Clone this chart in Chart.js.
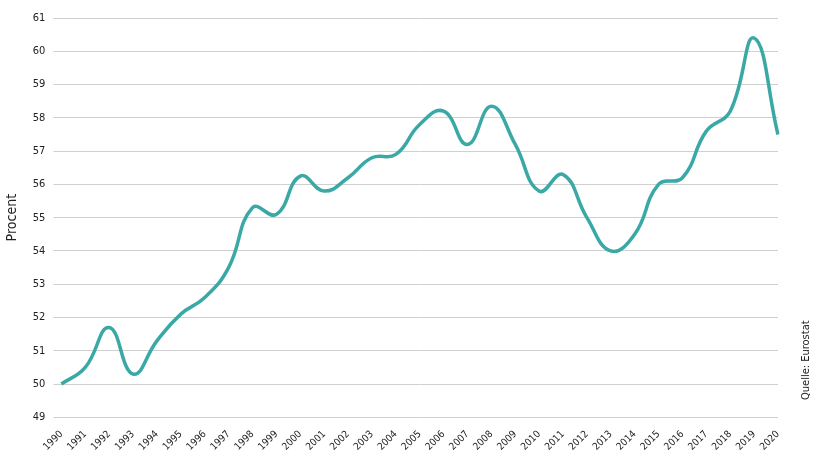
<!DOCTYPE html>
<html><head><meta charset="utf-8">
<script src="https://cdn.jsdelivr.net/npm/chart.js@4"></script>
<style>body{margin:0;background:#fff}#w{position:relative;width:820px;height:460px}
#src{position:absolute;transform:rotate(-90deg);transform-origin:left top;font:11px "DejaVu Sans Condensed",sans-serif;color:#222;white-space:nowrap;top:400px;left:799px}</style>
</head><body><div id="w"><canvas id="c" width="820" height="460"></canvas><div id="src">Quelle: Eurostat</div></div>
<script>
const years=['1990','1991','1992','1993','1994','1995','1996','1997','1998','1999','2000','2001','2002','2003','2004','2005','2006','2007','2008','2009','2010','2011','2012','2013','2014','2015','2016','2017','2018','2019','2020'];
const values=[50.0,50.5,51.7,50.3,51.3,52.1,52.6,53.5,55.3,55.1,56.25,55.8,56.2,56.8,56.9,57.8,58.2,57.2,58.35,57.2,55.8,56.3,55.0,54.0,54.5,56.0,56.2,57.6,58.2,60.4,57.5];
const yLabel='Procent';
const F='"DejaVu Sans Condensed", sans-serif';
new Chart(document.getElementById('c'),{type:'line',
data:{labels:years,datasets:[{data:values,borderColor:'#3aa9a6',borderWidth:3.5,pointRadius:0,tension:0.45}]},
options:{responsive:false,animation:false,layout:{padding:{left:0,right:42,top:18,bottom:4}},
plugins:{legend:{display:false},tooltip:{enabled:false}},
scales:{x:{offset:false,grid:{display:false},border:{display:false},
ticks:{maxRotation:45,minRotation:45,font:{size:10,family:F},color:'#222',autoSkip:false}},
y:{min:49,max:61,border:{display:false},grid:{color:'#d0d0d0'},ticks:{stepSize:1,padding:8,font:{size:11,family:F},color:'#222'},
title:{display:true,text:yLabel,font:{size:14,family:F},color:'#222'}}}}});
</script></body></html>
